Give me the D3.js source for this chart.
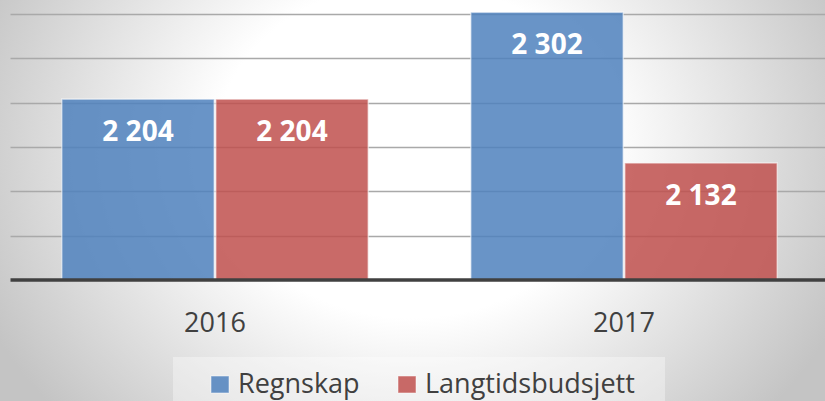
<!DOCTYPE html>
<html>
<head>
<meta charset="utf-8">
<script src="https://cdn.jsdelivr.net/npm/d3@7"></script>
<style>
  html, body { margin: 0; padding: 0; overflow: hidden; }
  #chart { width: 825px; height: 401px; }
</style>
</head>
<body>
<div id="chart"></div>
<script>
// Data
const years = ["2016", "2017"];
const seriesNames = ["Regnskap", "Langtidsbudsjett"];
const regnskap = [2204, 2302];
const langtidsbudsjett = [2204, 2132];
const seriesColors = ["#4f81bd", "#c0504d"];

const width = 825, height = 401;
const container = document.getElementById("chart");

const svg = d3.select(container)
    .append("svg")
    .attr("width", width)
    .attr("height", height)
    .style("font-family", "'Open Sans', sans-serif");

// Background: soft radial gradient, white in the middle
const defs = svg.append("defs");
const bg = defs.append("radialGradient")
    .attr("id", "bg")
    .attr("gradientUnits", "userSpaceOnUse")
    .attr("cx", 412).attr("cy", 150).attr("r", 470)
    .attr("gradientTransform", "translate(412,150) scale(1,0.85) translate(-412,-150)");
bg.append("stop").attr("offset", "0%").attr("stop-color", "#ffffff");
bg.append("stop").attr("offset", "42%").attr("stop-color", "#ffffff");
bg.append("stop").attr("offset", "100%").attr("stop-color", "#c4c4c4");

svg.append("rect")
    .attr("width", width)
    .attr("height", height)
    .attr("fill", "url(#bg)");

// Scales
const y = d3.scaleLinear()
    .domain([2000, 2300])
    .range([280, 14]);

const x0 = d3.scaleBand()
    .domain(years)
    .range([10.5, 828.5])
    .paddingInner(0.247)
    .paddingOuter(0.1235);

const x1 = d3.scaleBand()
    .domain(seriesNames)
    .range([0, x0.bandwidth()]);

const color = d3.scaleOrdinal().domain(seriesNames).range(seriesColors);

const locale = d3.formatLocale({ decimal: ",", thousands: " ", grouping: [3], currency: ["", " kr"] });
const fmt = locale.format(",d");

// Gridlines
svg.append("g")
    .selectAll("line")
    .data(y.ticks(6).filter(d => d > 2000))
    .enter()
    .append("line")
    .attr("x1", 10.5)
    .attr("x2", width)
    .attr("y1", d => Math.round(y(d)) + 0.5)
    .attr("y2", d => Math.round(y(d)) + 0.5)
    .attr("stroke", "#a9a9a9")
    .attr("stroke-width", 1.5);

// Bars
const rows = years.map((yr, i) => ({
    year: yr,
    values: [
        { key: seriesNames[0], value: regnskap[i] },
        { key: seriesNames[1], value: langtidsbudsjett[i] }
    ]
}));

const groups = svg.append("g")
    .selectAll("g")
    .data(rows)
    .enter()
    .append("g")
    .attr("transform", d => `translate(${x0(d.year)},0)`);

groups.selectAll("rect")
    .data(d => d.values)
    .enter()
    .append("rect")
    .attr("x", d => x1(d.key) + 0.75)
    .attr("y", d => y(d.value))
    .attr("width", x1.bandwidth() - 1.5)
    .attr("height", d => y(2000) - y(d.value))
    .attr("fill", d => color(d.key))
    .attr("fill-opacity", 0.85)
    .attr("stroke", "#ffffff")
    .attr("stroke-opacity", 0.55)
    .attr("stroke-width", 1.5);

// Value labels
groups.selectAll("text")
    .data(d => d.values)
    .enter()
    .append("text")
    .attr("x", d => x1(d.key) + x1.bandwidth() / 2)
    .attr("y", d => y(d.value) + 42)
    .attr("text-anchor", "middle")
    .attr("fill", "#ffffff")
    .attr("font-size", "28px")
    .attr("font-weight", "bold")
    .text(d => fmt(d.value));

// Baseline
svg.append("line")
    .attr("x1", 10.5)
    .attr("x2", width)
    .attr("y1", y(2000))
    .attr("y2", y(2000))
    .attr("stroke", "#404040")
    .attr("stroke-width", 3.5);

// Category labels
svg.append("g")
    .selectAll("text")
    .data(years)
    .enter()
    .append("text")
    .attr("x", d => x0(d) + x0.bandwidth() / 2)
    .attr("y", 332)
    .attr("text-anchor", "middle")
    .attr("fill", "#404040")
    .attr("font-size", "27px")
    .text(d => d);

// Legend
const legend = svg.append("g");
legend.append("rect")
    .attr("x", 173)
    .attr("y", 357)
    .attr("width", 492)
    .attr("height", 50)
    .attr("fill", "#ffffff")
    .attr("fill-opacity", 0.35);

const legendX = [211, 398];
const items = legend.selectAll("g")
    .data(seriesNames)
    .enter()
    .append("g")
    .attr("transform", (d, i) => `translate(${legendX[i]},376)`);

items.append("rect")
    .attr("width", 18)
    .attr("height", 17)
    .attr("fill", d => color(d))
    .attr("fill-opacity", 0.85)
    .attr("stroke", "#ffffff")
    .attr("stroke-opacity", 0.5);

items.append("text")
    .attr("x", 27)
    .attr("y", 17)
    .attr("fill", "#404040")
    .attr("font-size", "27px")
    .text(d => d);
</script>
</body>
</html>
